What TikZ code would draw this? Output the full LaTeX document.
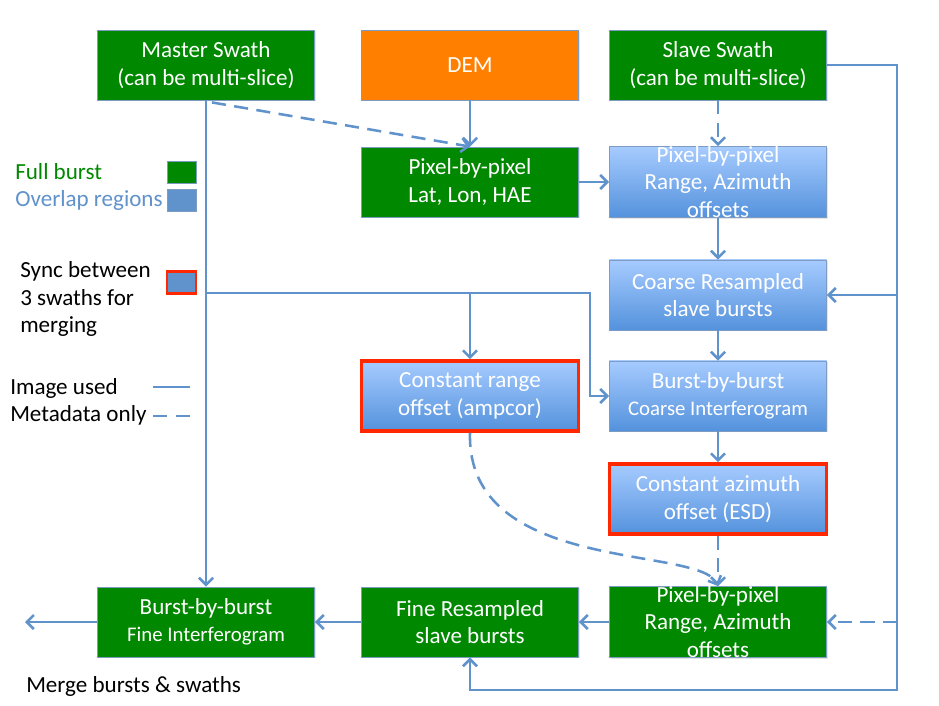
\documentclass[tikz,border=0pt]{standalone}
\usepackage{fontspec}
\setmainfont{Carlito}
\usetikzlibrary{arrows.meta,shadows,calc}

\definecolor{fullgreen}{RGB}{0,137,0}
\definecolor{demorange}{RGB}{255,128,0}
\definecolor{linkblue}{RGB}{96,146,204}
\definecolor{overtop}{RGB}{166,203,255}
\definecolor{overbot}{RGB}{84,146,220}
\definecolor{syncred}{RGB}{255,40,0}
\definecolor{boxedge}{RGB}{125,155,195}

\begin{document}
\begin{tikzpicture}[x=0.025cm,y=-0.025cm,
    stage/.style={rectangle, draw=boxedge, line width=0.6pt, text=white,
        minimum width=5.425cm, minimum height=1.75cm, inner sep=0pt,
        text width=5.3cm, align=flush center,
        font=\fontsize{16.4}{19.5}\selectfont,
        drop shadow={opacity=0.2, shadow xshift=1pt, shadow yshift=-1pt}},
    full/.style={stage, fill=fullgreen},
    overlap/.style={stage, top color=overtop, bottom color=overbot},
    sync/.style={draw=syncred, line width=2.6pt},
    link/.style={draw=linkblue, line width=1.8pt, -{Straight Barb[length=5pt,width=10pt]}},
    meta/.style={link, dash pattern=on 10pt off 6pt},
    legtext/.style={anchor=west, inner sep=0pt, align=left,
        font=\fontsize{16.4}{19.5}\selectfont},
    legbox/.style={rectangle, draw=boxedge, line width=0.6pt, inner sep=0pt,
        minimum width=0.725cm, minimum height=0.55cm}]
    \useasboundingbox[fill=white] (0,0) rectangle (939,705);

    % top row
    \node[full] (master) at (206,65) {Master Swath\\(can be multi-slice)};
    \node[stage, fill=demorange] (dem) at (470,65) {DEM};
    \node[full] (slave) at (718,65) {Slave Swath\\(can be multi-slice)};

    \node[full] (llh) at (470,182) {Pixel-by-pixel\\Lat, Lon, HAE};
    \node[overlap] (offcoarse) at (718,182) {Pixel-by-pixel\\Range, Azimuth\\offsets};
    \node[overlap] (coarseres) at (718,295) {Coarse Resampled\\slave bursts};
    \node[overlap, sync] (rangeoff) at (470,396) {Constant range\\offset (ampcor)};
    \node[overlap] (coarseifg) at (718,396) {Burst-by-burst\\{\fontsize{14.8}{19}\selectfont Coarse Interferogram}};
    \node[overlap, sync] (azoff) at (718,499) {Constant azimuth\\offset (ESD)};

    % bottom row
    \node[full] (offfine) at (718,622) {Pixel-by-pixel\\Range, Azimuth\\offsets};
    \node[full] (fineres) at (470,622) {Fine Resampled\\slave bursts};
    \node[full] (fineifg) at (206,622) {Burst-by-burst\\{\fontsize{14.8}{19}\selectfont Fine Interferogram}};

    % legend
    \node[legtext, text=fullgreen] (legfulltxt) at (15,172) {Full burst};
    \node[legbox, fill=fullgreen] (legfull) at (181.5,172) {};
    \node[legtext, text=linkblue] (legovertxt) at (15,200) {Overlap regions};
    \node[legbox, fill=linkblue] (legover) at (181.5,200) {};
    \node[legtext] (legsynctxt) at (20,299) {Sync between\\3 swaths for\\merging};
    \node[legbox, fill=linkblue, draw=syncred, line width=2pt] (legsync) at (181.5,282.5) {};
    \node[legtext] (legimgtxt) at (10,388) {Image used};
    \node[legtext] (legmetatxt) at (10,415) {Metadata only};
    \draw[link, -] (153,387) -- (190,387);
    \draw[meta, -] (153,416) -- (190,416);
    \node[legtext] (mergetxt) at (26,686) {Merge bursts \& swaths};

    % master side
    \coordinate (syncL) at (206,293);
    \coordinate (syncR) at (590,293);
    \draw[link] (master.south) -- (fineifg.north);
    \draw[meta] ($(master.south)+(6,2)$) -- (llh.north);
    \draw[link] (syncL) -- (syncR) |- (coarseifg.west);
    \draw[link] (rangeoff.north |- syncL) -- (rangeoff.north);

    % slave side
    \coordinate (slaveE) at (897,65);
    \coordinate (slaveS) at (897,690);
    \draw[link] (slave.east) -- (slaveE) -- (slaveS) -| (fineres.south);
    \draw[link] (slaveE |- coarseres.east) -- (coarseres.east);
    \draw[meta] (slaveE |- offfine.east) -- (offfine.east);

    \draw[link] (dem) -- (llh);
    \draw[meta] (slave) -- (offcoarse);
    \draw[link] (llh) -- (offcoarse);
    \draw[link] (offcoarse) -- (coarseres);
    \draw[link] (coarseres) -- (coarseifg);
    \draw[link] (coarseifg) -- (azoff);
    \draw[meta] (azoff) -- (offfine);
    \draw[meta] (rangeoff.south) .. controls (466,575) and (700,545) .. (offfine.north);

    \draw[link] (offfine) -- (fineres);
    \draw[link] (fineres) -- (fineifg);
    \coordinate (mergeend) at (25,622);
    \draw[link] (fineifg.west) -- (mergeend);
\end{tikzpicture}
\end{document}
